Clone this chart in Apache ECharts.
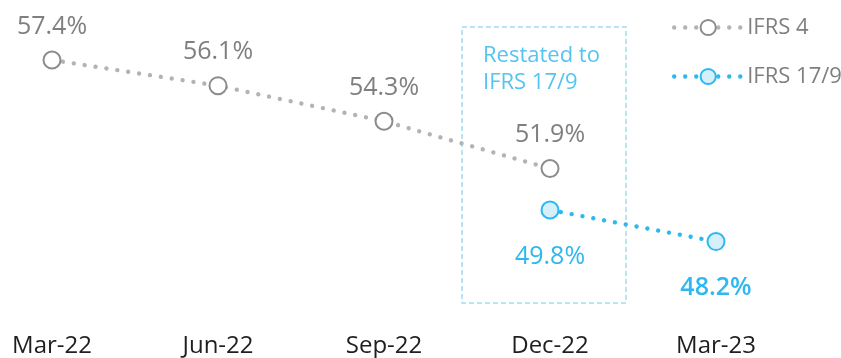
<!DOCTYPE html>
<html>
<head>
<meta charset="utf-8">
<style>
  html, body { margin: 0; padding: 0; background: #ffffff; }
  #chart { width: 841px; height: 358px; }
</style>
<script src="https://cdn.jsdelivr.net/npm/echarts@6/dist/echarts.min.js"></script>
</head>
<body>
<div id="chart"></div>
<script>
// Quarter-end dates shown on the x axis
const periods = ['Mar-22', 'Jun-22', 'Sep-22', 'Dec-22', 'Mar-23'];
// Ratio under the previous standard (%)
const ifrs4 = [57.4, 56.1, 54.3, 51.9, '-'];
// Ratio restated / reported under the new standards (%)
const ifrs179 = ['-', '-', '-', 49.8, 48.2];
// Series names used in the legend
const seriesNames = ['IFRS 4', 'IFRS 17/9'];
// Annotation text in the restatement box
const restatedNote = 'Restated to\nIFRS 17/9';

const GREY_LINE = '#b3b3b3';
const GREY_MARK = '#8c8c8c';
const GREY_TEXT = '#7f7f7f';
const BLUE = '#2db8ef';
const BLUE_FILL = '#d5effb';
const FONT = '"Open Sans", "Noto Sans", sans-serif';

// Round-capped, near-zero dashes give a dotted line
const dots = { width: 4.4, type: [0.01, 11], cap: 'round' };

const chart = echarts.init(document.getElementById('chart'), null, { renderer: 'canvas' });

chart.setOption({
  animation: false,
  backgroundColor: '#ffffff',
  grid: { left: 52, right: 125, top: 8.7, bottom: 67.8 },
  xAxis: {
    type: 'category',
    data: periods,
    boundaryGap: false,
    axisLine: { show: false },
    axisTick: { show: false },
    splitLine: { show: false },
    axisLabel: {
      margin: 49,
      color: '#1f1f1f',
      fontFamily: FONT,
      fontSize: 24,
      lineHeight: 24
    }
  },
  yAxis: {
    type: 'value',
    min: 46,
    max: 60,
    show: false
  },
  legend: {
    orient: 'vertical',
    left: 672,
    top: 16.5,
    padding: 0,
    itemWidth: 68,
    itemHeight: 19,
    itemGap: 27,
    lineStyle: { width: 4.4, type: [0.01, 11], cap: 'round' },
    textStyle: { color: GREY_TEXT, fontFamily: FONT, fontSize: 22, lineHeight: 19 },
    data: seriesNames
  },
  graphic: [
    {
      type: 'rect',
      shape: { x: 462, y: 27, width: 164, height: 276 },
      style: { fill: 'none', stroke: '#a3dbef', lineWidth: 1.5, lineDash: [5, 3] },
      z: 1
    },
    {
      type: 'text',
      left: 483,
      top: 42,
      style: {
        text: restatedNote,
        fill: '#55c4f0',
        font: '22px ' + FONT,
        lineHeight: 27
      },
      z: 2
    }
  ],
  series: [
    {
      name: seriesNames[0],
      type: 'line',
      data: ifrs4,
      symbol: 'circle',
      symbolSize: 17,
      showAllSymbol: true,
      clip: false,
      lineStyle: Object.assign({ color: GREY_LINE }, dots),
      itemStyle: { color: '#ffffff', borderColor: GREY_MARK, borderWidth: 2 },
      label: {
        show: true,
        position: 'top',
        distance: 11,
        color: GREY_TEXT,
        fontFamily: FONT,
        fontSize: 25,
        lineHeight: 26,
        formatter: p => p.value.toFixed(1) + '%'
      },
      emphasis: { disabled: true },
      z: 3
    },
    {
      name: seriesNames[1],
      type: 'line',
      // latest quarter is emphasised with a heavier label
      data: ifrs179.map((v, i) => (i === ifrs179.length - 1
        ? { value: v, label: { fontWeight: 600 } }
        : v)),
      symbol: 'circle',
      symbolSize: 17,
      showAllSymbol: true,
      clip: false,
      lineStyle: Object.assign({ color: BLUE }, dots),
      itemStyle: { color: BLUE_FILL, borderColor: BLUE, borderWidth: 2 },
      label: {
        show: true,
        position: 'bottom',
        distance: 24,
        color: BLUE,
        fontFamily: FONT,
        fontSize: 25,
        lineHeight: 26,
        formatter: p => p.value.toFixed(1) + '%'
      },
      emphasis: { disabled: true },
      z: 3
    }
  ]
});
</script>
</body>
</html>
